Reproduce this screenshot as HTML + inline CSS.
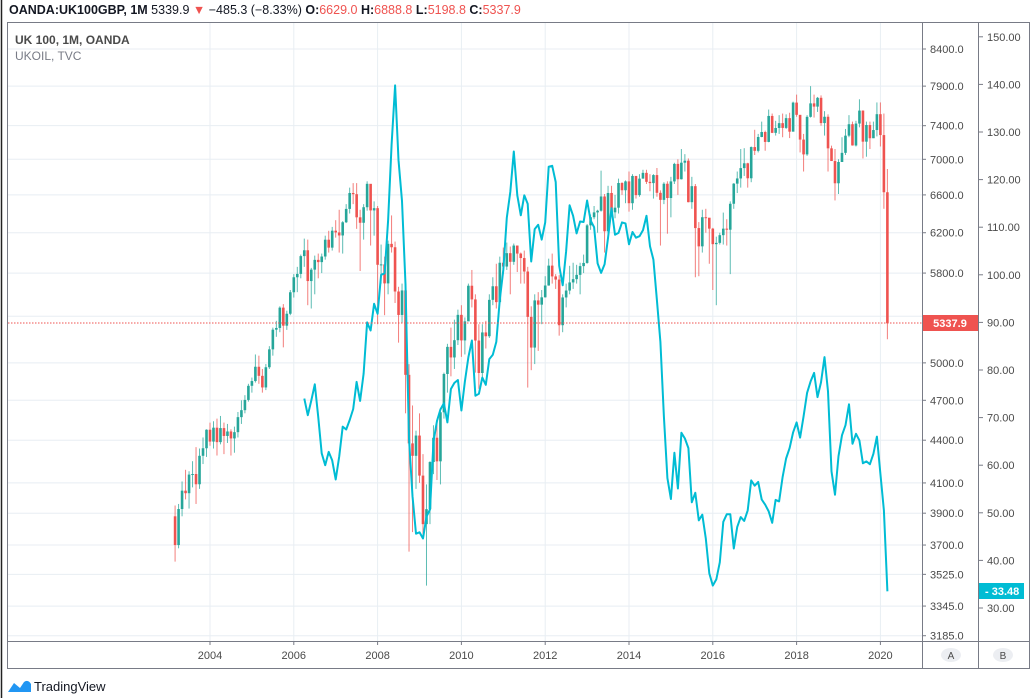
<!DOCTYPE html>
<html><head><meta charset="utf-8"><style>
body{margin:0;background:#fff;width:1034px;height:698px;overflow:hidden;font-family:"Liberation Sans",sans-serif}
svg{display:block}
</style></head><body>
<svg id="c" width="1034" height="698" viewBox="0 0 1034 698">
<rect x="0" y="0" width="1034" height="698" fill="#fff"/>
<line x1="1.5" y1="0" x2="1.5" y2="698" stroke="#222" stroke-width="1.5"/>
<g id="grid"></g>
<g id="candles"></g>
<g id="oil"></g>
<line x1="8" y1="323" x2="922" y2="323" stroke="#ef5350" stroke-dasharray="1.5,1.5" stroke-width="1"/>
<g id="frame">
<rect x="7.5" y="22.5" width="1022" height="646" fill="none" stroke="#787b86"/>
<line x1="922.5" y1="22" x2="922.5" y2="668" stroke="#787b86"/>
<line x1="978.5" y1="22" x2="978.5" y2="668" stroke="#787b86"/>
<line x1="7" y1="641.5" x2="1030" y2="641.5" stroke="#787b86"/>
</g>
<g id="axes" font-size="11" fill="#4a4a4a"></g>
<text x="9" y="14" font-size="12.5" fill="#131722"><tspan font-weight="bold">OANDA:UK100GBP, 1M</tspan> 5339.9 <tspan fill="#ef5350">▼</tspan> −485.3 (−8.33%) <tspan font-weight="bold">O:</tspan><tspan fill="#ef5350">6629.0</tspan> <tspan font-weight="bold">H:</tspan><tspan fill="#ef5350">6888.8</tspan> <tspan font-weight="bold">L:</tspan><tspan fill="#ef5350">5198.8</tspan> <tspan font-weight="bold">C:</tspan><tspan fill="#ef5350">5337.9</tspan></text>
<text x="15" y="44" font-size="12" font-weight="bold" fill="#4a4a4a">UK 100, 1M, OANDA</text>
<text x="15" y="60" font-size="12" fill="#787b86">UKOIL, TVC</text>
<rect x="923" y="315" width="55" height="16" fill="#ef5350"/>
<text x="950" y="327" font-size="11" font-weight="bold" fill="#fff" text-anchor="middle">5337.9</text>
<rect x="979" y="583" width="45" height="16" fill="#00bcd4"/>
<text x="985" y="595" font-size="11" font-weight="bold" fill="#fff">- 33.48</text>
<ellipse cx="951" cy="655" rx="10" ry="7" fill="#eceef2"/>
<text x="951" y="659" font-size="10" fill="#4a4a4a" text-anchor="middle">A</text>
<ellipse cx="1003" cy="655" rx="10" ry="7" fill="#eceef2"/>
<text x="1003" y="659" font-size="10" fill="#4a4a4a" text-anchor="middle">B</text>
<path d="M8 692 L14 683 L20 688 L24 682 Q28 679 31 684 L31 692 Z" fill="#2196f3"/>
<text x="34" y="691" font-size="13" fill="#131722">TradingView</text>
</svg>
<script>
const years=[2004,2006,2008,2010,2012,2014,2016,2018,2020];
const ticksA=[8400,7900,7400,7000,6600,6200,5800,5400,5000,4700,4400,4100,3900,3700,3525,3345,3185];
const ticksB=[150,140,130,120,110,100,90,80,70,60,50,40,30];
const ftseStart=2003+2/12;
const ftseFirstOpen=3880;
const ftseClose=[3700,3927,4048,4031,4157,4161,4091,4288,4342,4477,
4390,4492,4386,4489,4431,4464,4413,4459,4571,4624,4703,4814,
4852,4968,4894,4801,4964,5113,5282,5297,5478,5317,5423,5619,
5760,5792,5965,6023,5724,5833,5928,5906,5961,6129,6049,6221,
6203,6172,6308,6449,6621,6608,6360,6303,6467,6722,6433,6457,
5880,5884,5702,6087,6053,5626,5412,5636,4902,4377,4288,4434,
4150,3830,3926,4244,4418,4249,4608,4909,5134,5045,5191,5413,
5189,5355,5680,5553,5188,4917,5258,5225,5549,5675,5528,5900,
5863,5994,5909,6070,5990,5946,5815,5395,5128,5544,5505,5572,
5682,5872,5768,5738,5321,5571,5635,5711,5742,5783,5867,5898,
6276,6361,6412,6430,6583,6215,6621,6413,6462,6731,6651,6749,
6510,6810,6598,6780,6845,6744,6730,6820,6623,6546,6723,6566,
6749,6947,6773,6961,6984,6521,6696,6248,6062,6361,6356,6242,
6084,6097,6175,6242,6231,6504,6724,6782,6899,6954,6784,7143,
7099,7263,7323,7204,7520,7313,7372,7431,7373,7493,7327,7688,
7534,7232,7057,7509,7678,7637,7749,7432,7510,7128,6980,6728,
6969,7075,7279,7418,7162,7426,7587,7207,7408,7248,7347,7542,
7286,6629,5338];
const ftseHigh=[3950,3960,4110,4190,4180,4250,4350,4340,4420,4480,
4530,4540,4560,4580,4530,4520,4480,4500,4610,4700,4740,4830,
4880,5070,5060,4950,4990,5140,5300,5360,5490,5510,5450,5640,
5790,5860,5980,6140,6130,5850,5970,5990,5990,6170,6220,6260,
6330,6440,6320,6500,6680,6730,6730,6440,6500,6750,6720,6530,
6480,6080,5960,6120,6380,6110,5670,5700,5650,4990,4660,4470,
4600,4300,4090,4250,4510,4530,4640,4920,5160,5300,5370,5460,
5500,5390,5700,5830,5600,5330,5330,5360,5600,5760,5890,5960,
6050,6100,6060,6090,6070,6000,6020,5860,5490,5600,5620,5640,
5770,5940,5990,5790,5780,5600,5700,5870,5900,5880,5900,5980,
6290,6390,6480,6440,6870,6610,6700,6700,6600,6780,6740,6760,
6860,6830,6810,6830,6880,6880,6830,6830,6900,6650,6740,6750,
6800,6960,7000,7120,7060,7010,6800,6720,6310,6440,6450,6350,
6250,6160,6200,6410,6340,6530,6730,6860,7120,7130,6960,7150,
7350,7300,7450,7340,7600,7550,7460,7530,7550,7540,7560,7700,
7790,7500,7300,7530,7900,7790,7760,7780,7580,7540,7160,7120,
7000,7260,7360,7530,7450,7460,7730,7590,7450,7450,7450,7690,
7690,7550,6889];
const ftseLow=[3600,3680,3880,3990,3930,4070,3960,4060,4230,4280,
4360,4340,4290,4370,4300,4380,4290,4310,4420,4520,4600,4690,
4760,4840,4830,4760,4780,4950,5060,5220,5260,5130,5280,5410,
5570,5620,5750,5860,5500,5470,5600,5750,5800,5930,6000,6020,
6150,6000,5990,6300,6400,6500,6240,5820,6130,6430,6070,6170,
5330,5700,5410,5600,6000,5520,5170,5340,4600,3660,3780,4060,
4100,3750,3460,3830,4160,4120,4090,4560,4760,4890,4950,5150,
5050,5070,5360,5480,4920,4790,4870,5120,5210,5500,5470,5540,
5790,5830,5600,5880,5810,5700,5700,4800,4940,4990,5100,5330,
5570,5680,5700,5650,5230,5260,5480,5600,5650,5700,5600,5800,
5890,6230,6340,6200,6420,6000,6180,6400,6350,6400,6600,6510,
6420,6440,6560,6580,6780,6720,6640,6560,6580,6070,6500,6190,
6360,6720,6600,6770,6860,6520,6450,5760,5770,6000,6200,5890,
5640,5500,6080,6080,6070,5790,6450,6620,6680,6810,6680,6740,
7050,7080,7260,7100,7200,7310,7280,7300,7260,7360,7250,7340,
7510,7080,6860,7040,7500,7500,7570,7400,7280,6860,6990,6540,
6610,6970,7050,7260,7160,7150,7380,7010,7030,7120,7250,7270,
7150,6450,5199];
const oilStart=2006+3/12;
const oilClose=[74.0,70.5,73.6,77.0,70.2,62.5,60.0,62.8,61.0,
57.0,61.8,68.1,67.5,69.5,71.8,77.5,73.5,79.2,90.0,88.3,93.9,
91.8,100,100.3,111.4,127.4,139.8,124.1,115.5,98,65.6,53.5,45.6,
45.9,44.6,49.2,50.7,65,69.3,71.7,73,69,76,77.3,77.9,
71.5,77.6,82.7,86.2,74.6,75,78.4,76.9,82.3,83.2,85.9,94.8,
101,112,117.4,125.9,116.7,112.5,116.7,114.9,102.8,109.6,110.5,107.4,
111,122.7,122.9,119.5,101.9,97.8,104.9,114.6,112.4,108.7,111.2,111.1,
115.6,111.4,110,102.4,100.4,102.2,107.7,114,108.4,108.8,111,110.8,
106.4,109,107.8,108.1,109.4,112.4,106,103.2,94.7,85.9,70.2,57.3,
52.9,62.6,55.1,66.8,65.6,63.6,52.2,54.2,48.4,49.6,44.6,37.3,
34.7,36,39.6,48.1,49.7,49.7,42.5,47,49.1,48.3,50.5,56.8,
55.7,56.5,52.8,51.7,50.3,47.9,52.7,52.4,57.5,61.4,63.6,66.9,
69,65.8,70.3,75.2,77.6,79.4,74.3,77.4,82.7,75.5,58.7,53.8,
61.9,66.3,68.4,72.8,64.5,66.6,65.2,60.4,60.8,60.2,62.4,66,
58.2,50.5,33.5];

const NS='http://www.w3.org/2000/svg';
function X(t){return 210+(t-2004)*41.9;}
function YA(v){return 49+(Math.log(8400)-Math.log(v))*605;}
function YB(v){return 608-(v-30)*4.76;}
function mk(tag,attrs,parent){const e=document.createElementNS(NS,tag);for(const k in attrs)e.setAttribute(k,attrs[k]);parent.appendChild(e);return e;}
const grid=document.getElementById('grid'),axes=document.getElementById('axes');
ticksA.forEach(v=>{const y=YA(v);
 const g=mk('line',{x1:8,x2:922,y1:y,y2:y,stroke:'#e8eef3'},grid);
 
 
 const tk=mk('line',{x1:922,x2:926,y1:y,y2:y,stroke:'#787b86'},axes);
 
 
 if(v!==5400){const t=mk('text',{x:930,y:y+4},axes);t.textContent=v.toFixed(1);
 
 }
});
ticksB.forEach(v=>{const y=YB(v);
 const tk=mk('line',{x1:979,x2:983,y1:y,y2:y,stroke:'#787b86'},axes);
 
 
 const t=mk('text',{x:987,y:y+4},axes);t.textContent=v.toFixed(2);
 
 
});
years.forEach(yr=>{const x=X(yr);
 const g=mk('line',{x1:x,x2:x,y1:23,y2:641,stroke:'#e8eef3'},grid);
 
 
 const tk=mk('line',{x1:x,x2:x,y1:641,y2:645,stroke:'#787b86'},axes);
 
 
 const t=mk('text',{x:x,y:659,'text-anchor':'middle'},axes);t.textContent=yr;
 
 
});
const cg=document.getElementById('candles');
ftseClose.forEach((c,i)=>{
 const o=i===0?ftseFirstOpen:ftseClose[i-1];
 const x=X(ftseStart+i/12);
 const col=c>=o?'#26a69a':'#ef5350';
 const w=mk('line',{x1:x,x2:x,y1:YA(ftseHigh[i]),y2:YA(ftseLow[i]),stroke:col,'stroke-width':1,opacity:0.75},cg);
 
 
 const top=YA(Math.max(o,c)),bot=YA(Math.min(o,c));
 const b=mk('rect',{x:x-1.3,y:top,width:2.6,height:Math.max(1,bot-top),fill:col},cg);
 
 
});
const pts=oilClose.map((v,i)=>X(oilStart+i/12).toFixed(1)+','+YB(v).toFixed(1)).join(' ');
const pl=mk('polyline',{points:pts,fill:'none',stroke:'#00bcd4','stroke-width':2,'stroke-linejoin':'round'},document.getElementById('oil'));


</script>
</body></html>
